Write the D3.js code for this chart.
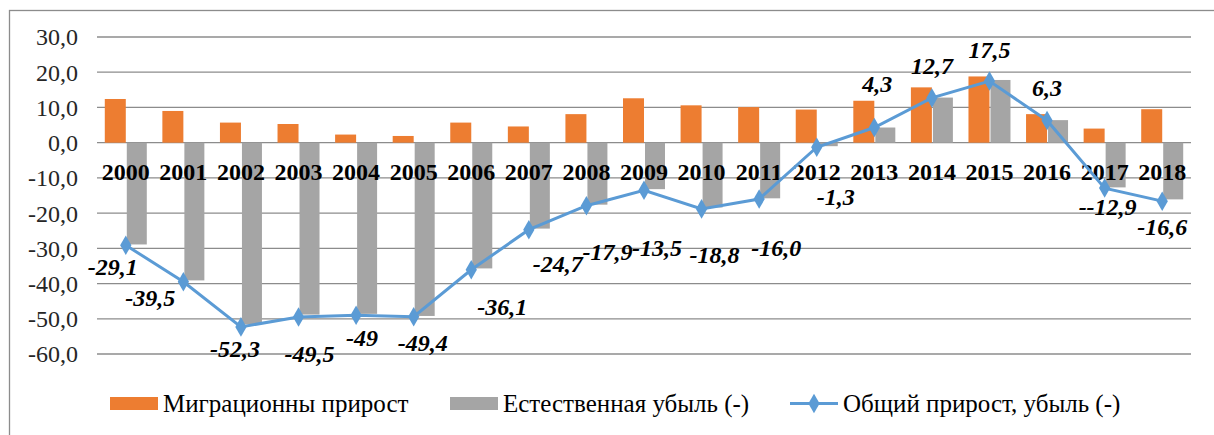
<!DOCTYPE html>
<html>
<head>
<meta charset="utf-8">
<script src="https://cdn.jsdelivr.net/npm/d3@7"></script>
<style>
  body { margin: 0; background: #fff; }
</style>
</head>
<body>
<div id="chart"></div>
<script>
var years = ["2000","2001","2002","2003","2004","2005","2006","2007","2008","2009",
             "2010","2011","2012","2013","2014","2015","2016","2017","2018"];
var migration = [12.4, 9.0, 5.7, 5.3, 2.3, 1.9, 5.7, 4.6, 8.1, 12.6,
                 10.6, 10.1, 9.4, 11.9, 15.7, 18.8, 8.1, 4.0, 9.5];
var natural = [-28.9, -39.1, -51.6, -48.8, -48.6, -49.2, -35.7, -24.4, -17.6, -13.2,
               -18.4, -15.8, -1.0, 4.3, 12.8, 17.8, 6.4, -12.7, -16.1];
var total = [-29.1, -39.5, -52.3, -49.5, -49, -49.4, -36.1, -24.7, -17.9, -13.5,
             -18.8, -16.0, -1.3, 4.3, 12.7, 17.5, 6.3, -12.9, -16.6];
var totalLabels = ["-29,1","-39,5","-52,3","-49,5","-49","-49,4","-36,1","-24,7","-17,9","-13,5",
                   "-18,8","-16,0","-1,3","4,3","12,7","17,5","6,3","--12,9","-16,6"];
var yTicks = [30, 20, 10, 0, -10, -20, -30, -40, -50, -60];
var seriesNames = ["Миграционны прирост", "Естественная убыль (-)", "Общий прирост, убыль (-)"];

// label nudges relative to the point (layout only): [dx, baseline dy]
var labelNudge = [[-13,30],[-33,24],[-6,30],[11,45],[6,31],[9,34],
                  [31,45],[29,42],[21,54],[13,66],[13,54],[17,57],
                  [19,58],[3,-36],[0,-24],[0,-23],[0,-24],[3,27],[0,34]];

var FONT = "'Liberation Serif', 'Times New Roman', serif";
var W = 1214, H = 435;
var margin = {left: 97, right: 23, top: 37, bottom: 81};

var svg = d3.select("#chart").append("svg")
    .attr("width", W).attr("height", H);

svg.append("rect")
    .attr("x", 9.5).attr("y", 10.5)
    .attr("width", 1210).attr("height", 430)
    .attr("fill", "none").attr("stroke", "#8c8c8c").attr("stroke-width", 1.3);

var x = d3.scaleBand().domain(years).range([margin.left, W - margin.right]);
var y = d3.scaleLinear().domain([-60, 30]).range([H - margin.bottom, margin.top]);
var barW = 21;

// gridlines
svg.append("g").selectAll("line").data(yTicks).join("line")
    .attr("x1", margin.left).attr("x2", W - margin.right)
    .attr("y1", function (d) { return y(d); }).attr("y2", function (d) { return y(d); })
    .attr("stroke", "#8c8c8c").attr("stroke-width", 1.3);

// y axis labels
svg.append("g").selectAll("text").data(yTicks).join("text")
    .attr("x", 78).attr("y", function (d) { return y(d); })
    .attr("dy", "0.35em")
    .attr("text-anchor", "end")
    .attr("font-size", 24)
    .style("font-family", FONT)
    .attr("fill", "#262626")
    .text(function (d) { return d3.format(".1f")(d).replace(".", ",").replace("−", "-"); });

// bars
svg.append("g").selectAll("rect").data(migration).join("rect")
    .attr("x", function (d, i) { return x(years[i]) + x.bandwidth() / 2 - barW; })
    .attr("width", barW)
    .attr("y", function (d) { return y(Math.max(0, d)); })
    .attr("height", function (d) { return Math.abs(y(d) - y(0)); })
    .attr("fill", "#ED7D31");

svg.append("g").selectAll("rect").data(natural).join("rect")
    .attr("x", function (d, i) { return x(years[i]) + x.bandwidth() / 2 + 1; })
    .attr("width", barW - 1)
    .attr("y", function (d) { return y(Math.max(0, d)); })
    .attr("height", function (d) { return Math.abs(y(d) - y(0)); })
    .attr("fill", "#A5A5A5");

// year labels
svg.append("g").selectAll("text").data(years).join("text")
    .attr("x", function (d) { return x(d) + x.bandwidth() / 2; })
    .attr("y", y(-10) + 2)
    .attr("text-anchor", "middle")
    .attr("font-size", 24)
    .attr("font-weight", "bold")
    .style("font-family", FONT)
    .attr("fill", "#000")
    .text(function (d) { return d; });

// total line
var cx = function (d, i) { return x(years[i]) + x.bandwidth() / 2; };
var line = d3.line().x(cx).y(function (d) { return y(d); });
svg.append("path").datum(total)
    .attr("d", line)
    .attr("fill", "none").attr("stroke", "#5B9BD5").attr("stroke-width", 3);

var diamond = d3.symbol().type(d3.symbolDiamond).size(110);
svg.append("g").selectAll("path").data(total).join("path")
    .attr("d", diamond)
    .attr("transform", function (d, i) { return "translate(" + cx(d, i) + "," + y(d) + ")"; })
    .attr("fill", "#5B9BD5");

svg.append("g").selectAll("text").data(total).join("text")
    .attr("x", function (d, i) { return cx(d, i) + labelNudge[i][0]; })
    .attr("y", function (d, i) { return y(d) + labelNudge[i][1]; })
    .attr("text-anchor", "middle")
    .attr("font-size", 24)
    .attr("font-weight", "bold")
    .attr("font-style", "italic")
    .style("font-family", FONT)
    .attr("fill", "#000")
    .text(function (d, i) { return totalLabels[i]; });

// legend
var legend = svg.append("g");
var lx = [110, 450, 790];
legend.append("rect").attr("x", lx[0]).attr("y", 397).attr("width", 48).attr("height", 13).attr("fill", "#ED7D31");
legend.append("rect").attr("x", lx[1]).attr("y", 397).attr("width", 48).attr("height", 13).attr("fill", "#A5A5A5");
legend.append("line").attr("x1", lx[2]).attr("x2", lx[2] + 48).attr("y1", 403.5).attr("y2", 403.5)
    .attr("stroke", "#5B9BD5").attr("stroke-width", 3);
legend.append("path").attr("d", diamond).attr("transform", "translate(" + (lx[2] + 24) + ",403.5)")
    .attr("fill", "#5B9BD5");
legend.selectAll("text").data(seriesNames).join("text")
    .attr("x", function (d, i) { return lx[i] + 53; })
    .attr("y", 403.5)
    .attr("dy", "0.35em")
    .attr("font-size", 25)
    .style("font-family", FONT)
    .attr("fill", "#000")
    .text(function (d) { return d; });
</script>
</body>
</html>
